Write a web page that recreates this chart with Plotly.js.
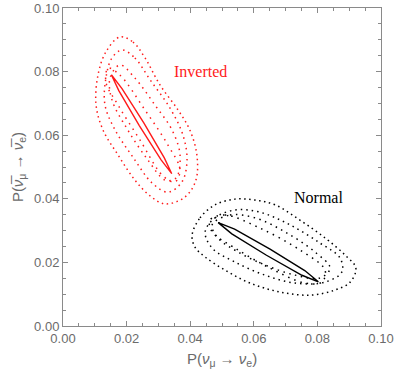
<!DOCTYPE html>
<html>
<head>
<meta charset="utf-8">
<script src="https://cdn.plot.ly/plotly-3.0.1.min.js"></script>
<style>
  html, body { margin: 0; padding: 0; background: #fff; }
  #chart { width: 396px; height: 380px; }
</style>
</head>
<body>
<div id="chart"></div>
<script>
// contour outlines (x = P(nu_mu -> nu_e), y = P(anti))
const invOuterX = [0.0179, 0.0220, 0.0258, 0.0305, 0.0362, 0.0399, 0.0421, 0.0418, 0.0384, 0.0321, 0.0274, 0.0226, 0.0173, 0.0126, 0.0104, 0.0110, 0.0135, 0.0179];
const invOuterY = [0.0909, 0.0893, 0.0843, 0.0758, 0.0679, 0.0616, 0.0538, 0.0459, 0.0406, 0.0384, 0.0409, 0.0459, 0.0538, 0.0616, 0.0695, 0.0789, 0.0862, 0.0909];
const invMidX = [0.0186, 0.0226, 0.0274, 0.0336, 0.0377, 0.0390, 0.0374, 0.0330, 0.0280, 0.0220, 0.0164, 0.0132, 0.0135, 0.0154, 0.0186];
const invMidY = [0.0868, 0.0843, 0.0774, 0.0686, 0.0601, 0.0522, 0.0453, 0.0421, 0.0450, 0.0531, 0.0616, 0.0695, 0.0780, 0.0843, 0.0868];
const invInnerX = [0.0179, 0.0226, 0.0289, 0.0343, 0.0368, 0.0355, 0.0321, 0.0267, 0.0204, 0.0154, 0.0148, 0.0179];
const invInnerY = [0.0821, 0.0780, 0.0695, 0.0616, 0.0538, 0.0465, 0.0459, 0.0522, 0.0616, 0.0711, 0.0780, 0.0821];
const invCoreX = [0.0142, 0.0179, 0.0258, 0.0330, 0.0368, 0.0352, 0.0314, 0.0242, 0.0173, 0.0135, 0.0142];
const invCoreY = [0.0811, 0.0789, 0.0679, 0.0569, 0.0491, 0.0453, 0.0472, 0.0585, 0.0695, 0.0767, 0.0811];
const invBestX = [0.0152, 0.01855, 0.02541, 0.03186, 0.0342, 0.03085, 0.02399, 0.01755, 0.0152];
const invBestY = [0.0790, 0.07465, 0.06388, 0.05288, 0.0479, 0.05226, 0.06302, 0.07403, 0.0790];

const norOuterX = [0.0406, 0.0431, 0.0478, 0.0541, 0.0604, 0.0667, 0.0745, 0.0824, 0.0887, 0.0921, 0.0903, 0.0855, 0.0777, 0.0682, 0.0588, 0.0509, 0.0447, 0.0415, 0.0406];
const norOuterY = [0.0286, 0.0340, 0.0381, 0.0399, 0.0396, 0.0381, 0.0333, 0.0277, 0.0223, 0.0182, 0.0138, 0.0113, 0.0097, 0.0107, 0.0135, 0.0176, 0.0217, 0.0248, 0.0286];
const norMidX = [0.0447, 0.0478, 0.0541, 0.0619, 0.0714, 0.0808, 0.0871, 0.0877, 0.0824, 0.0730, 0.0635, 0.0541, 0.0469, 0.0447];
const norMidY = [0.0296, 0.0340, 0.0365, 0.0358, 0.0318, 0.0261, 0.0214, 0.0170, 0.0138, 0.0135, 0.0160, 0.0201, 0.0245, 0.0296];
const norInnerX = [0.0469, 0.0525, 0.0604, 0.0698, 0.0792, 0.0840, 0.0808, 0.0730, 0.0635, 0.0550, 0.0487, 0.0469];
const norInnerY = [0.0318, 0.0349, 0.0340, 0.0296, 0.0233, 0.0182, 0.0151, 0.0160, 0.0192, 0.0233, 0.0277, 0.0318];
const norCoreX = [0.0462, 0.0509, 0.0619, 0.0745, 0.0824, 0.0814, 0.0761, 0.0651, 0.0541, 0.0469, 0.0462];
const norCoreY = [0.0333, 0.0349, 0.0308, 0.0239, 0.0176, 0.0138, 0.0135, 0.0182, 0.0245, 0.0296, 0.0333];
const norBestX = [0.0488, 0.05397, 0.06511, 0.07602, 0.0803, 0.07514, 0.06399, 0.05309, 0.0488];
const norBestY = [0.0325, 0.03046, 0.02415, 0.01744, 0.0139, 0.01596, 0.02225, 0.02896, 0.0325];

const tickVals = [0, 0.02, 0.04, 0.06, 0.08, 0.10];
const tickText = ["0.00", "0.02", "0.04", "0.06", "0.08", "0.10"];

const RED = "#ff1a1a";
const BLACK = "#000000";
const GREY = "#6b6b6b";
const FRAME = "#8a8a8a";

function dotted(x, y, color, gap) {
  return {
    x, y, type: "scatter", mode: "lines", hoverinfo: "skip",
    line: { color, width: 1.5, dash: "1.5px," + gap + "px", shape: "spline", smoothing: 1 },
  };
}
function solid(x, y, color) {
  return {
    x, y, type: "scatter", mode: "lines", hoverinfo: "skip",
    line: { color, width: 1.4 },
  };
}

const traces = [
  dotted(invOuterX, invOuterY, RED, 3.5),
  dotted(invMidX, invMidY, RED, 4),
  dotted(invInnerX, invInnerY, RED, 4.5),
  dotted(invCoreX, invCoreY, RED, 5),
  solid(invBestX, invBestY, RED),
  dotted(norOuterX, norOuterY, BLACK, 3.5),
  dotted(norMidX, norMidY, BLACK, 4),
  dotted(norInnerX, norInnerY, BLACK, 4.5),
  dotted(norCoreX, norCoreY, BLACK, 5),
  solid(norBestX, norBestY, BLACK),
];

const axisBase = {
  range: [0, 0.10],
  tickvals: tickVals, ticktext: tickText,
  ticks: "inside", ticklen: 5, tickwidth: 1, tickcolor: FRAME,
  minor: { dtick: 0.005, ticks: "inside", ticklen: 3, tickcolor: FRAME, showgrid: false },
  showline: true, linecolor: FRAME, linewidth: 1, mirror: "allticks",
  showgrid: false, zeroline: false,
  tickfont: { family: "Liberation Sans, Arial, sans-serif", size: 13, color: GREY },
};

const layout = {
  width: 396, height: 380,
  margin: { l: 63, r: 15, t: 8, b: 54 },
  paper_bgcolor: "#fff", plot_bgcolor: "#fff",
  showlegend: false,
  xaxis: {
    ...axisBase,
    title: { text: "P(<i>ν</i><sub>μ</sub> → <i>ν</i><sub>e</sub>)", standoff: 8,
             font: { family: "Liberation Sans, Arial, sans-serif", size: 15, color: GREY } },
  },
  yaxis: {
    ...axisBase,
    title: { text: "P(<i>ν̅</i><sub>μ</sub> → <i>ν̅</i><sub>e</sub>)", standoff: 6,
             font: { family: "Liberation Sans, Arial, sans-serif", size: 15, color: GREY } },
  },
  annotations: [
    { x: 0.0431, y: 0.0799, text: "Inverted", showarrow: false,
      font: { family: "Liberation Serif, Times New Roman, serif", size: 16, color: RED } },
    { x: 0.0802, y: 0.0403, text: "Normal", showarrow: false,
      font: { family: "Liberation Serif, Times New Roman, serif", size: 16, color: BLACK } },
  ],
};

Plotly.newPlot("chart", traces, layout, { displayModeBar: false, staticPlot: true });
</script>
</body>
</html>
